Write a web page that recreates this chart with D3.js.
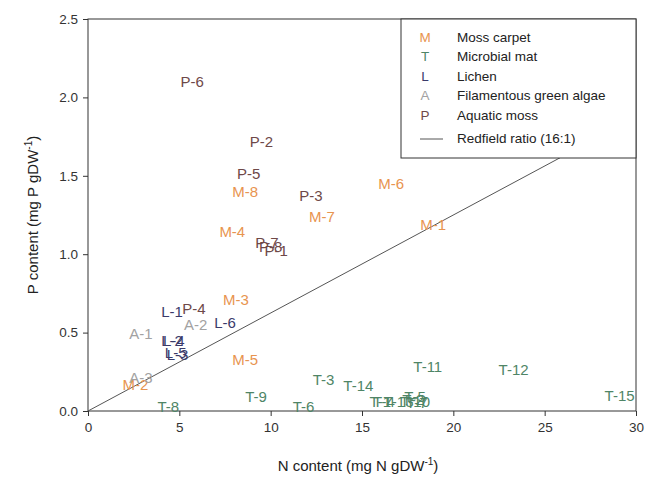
<!DOCTYPE html>
<html>
<head>
<meta charset="utf-8">
<script src="https://cdn.jsdelivr.net/npm/d3@7"></script>
<style>
  body { margin: 0; background: #fff; }
  text { font-family: "Liberation Sans", Arial, sans-serif; }
</style>
</head>
<body>
<div id="chart"></div>
<script>
// sample labels, N content and P content (mg per gDW) for each group
var mossLabels = ["M-1", "M-2", "M-3", "M-4", "M-5", "M-6", "M-7", "M-8"];
var mossN = [18.9, 2.6, 8.1, 7.9, 8.6, 16.6, 12.8, 8.6];
var mossP = [1.19, 0.17, 0.71, 1.14, 0.33, 1.45, 1.24, 1.40];

var matLabels = ["T-1", "T-2", "T-3", "T-4", "T-5", "T-6", "T-7", "T-8", "T-9", "T-10", "T-11", "T-12", "T-13", "T-14", "T-15"];
var matN = [16.0, 17.8, 12.9, 16.2, 17.9, 11.8, 18.0, 4.4, 9.2, 17.9, 18.6, 23.3, 17.0, 14.8, 29.1];
var matP = [0.06, 0.07, 0.20, 0.06, 0.09, 0.03, 0.05, 0.03, 0.09, 0.06, 0.28, 0.26, 0.06, 0.16, 0.10];

var lichenLabels = ["L-1", "L-2", "L-3", "L-4", "L-5", "L-6"];
var lichenN = [4.6, 4.6, 4.9, 4.7, 4.8, 7.5];
var lichenP = [0.63, 0.45, 0.36, 0.45, 0.37, 0.56];

var algaeLabels = ["A-1", "A-2", "A-3"];
var algaeN = [2.9, 5.9, 2.9];
var algaeP = [0.49, 0.55, 0.21];

var aquaLabels = ["P-1", "P-2", "P-3", "P-4", "P-5", "P-6", "P-7", "P-8"];
var aquaN = [10.3, 9.5, 12.2, 5.8, 8.8, 5.7, 9.8, 10.0];
var aquaP = [1.02, 1.72, 1.37, 0.65, 1.51, 2.10, 1.07, 1.05];

var xTicks = [0, 5, 10, 15, 20, 25, 30];
var yTicks = [0.0, 0.5, 1.0, 1.5, 2.0, 2.5];
var redfield = 16;

var groups = [
  { key: "M", name: "Moss carpet", color: "#e8944f", labels: mossLabels, n: mossN, p: mossP },
  { key: "T", name: "Microbial mat", color: "#4f8566", labels: matLabels, n: matN, p: matP },
  { key: "L", name: "Lichen", color: "#3a3a6a", labels: lichenLabels, n: lichenN, p: lichenP },
  { key: "A", name: "Filamentous green algae", color: "#a2a2a2", labels: algaeLabels, n: algaeN, p: algaeP },
  { key: "P", name: "Aquatic moss", color: "#6e4848", labels: aquaLabels, n: aquaN, p: aquaP }
];

var width = 658, height = 479;
var margin = { top: 19, right: 22, bottom: 68, left: 88 };
var w = width - margin.left - margin.right;
var h = height - margin.top - margin.bottom;

var svg = d3.select("#chart").append("svg")
    .attr("width", width)
    .attr("height", height);

var g = svg.append("g")
    .attr("transform", "translate(" + margin.left + "," + margin.top + ")");

var x = d3.scaleLinear().domain([0, 30]).range([0, w]);
var y = d3.scaleLinear().domain([0, 2.5]).range([h, 0]);

g.append("defs").append("clipPath").attr("id", "clip")
  .append("rect").attr("width", w).attr("height", h);

// axes
var xAxis = g.append("g")
    .attr("transform", "translate(0," + h + ")")
    .call(d3.axisBottom(x).tickValues(xTicks).tickSize(5).tickPadding(6).tickFormat(d3.format("d")));
var yAxis = g.append("g")
    .call(d3.axisLeft(y).tickValues(yTicks).tickSize(5).tickPadding(5).tickFormat(d3.format(".1f")));
[xAxis, yAxis].forEach(function(a) {
  a.select(".domain").remove();
  a.selectAll("line").attr("stroke", "#333");
  a.selectAll("text").attr("fill", "#333").style("font-size", "13.5px")
    .style("font-family", "'Liberation Sans', Arial, sans-serif");
});

// frame
g.append("rect")
  .attr("width", w).attr("height", h)
  .attr("fill", "none").attr("stroke", "#333").attr("stroke-width", 1);

// Redfield line
g.append("line")
  .attr("clip-path", "url(#clip)")
  .attr("x1", x(0)).attr("y1", y(0))
  .attr("x2", x(30)).attr("y2", y(30 / redfield))
  .attr("stroke", "#555").attr("stroke-width", 1);

// sample labels
groups.forEach(function(grp) {
  g.selectAll(".lbl-" + grp.key)
    .data(grp.labels)
    .enter().append("text")
      .attr("x", function(d, i) { return x(grp.n[i]); })
      .attr("y", function(d, i) { return y(grp.p[i]); })
      .attr("text-anchor", "middle")
      .attr("dy", "0.35em")
      .attr("fill", grp.color)
      .style("font-size", "15px")
      .text(function(d) { return d; });
});

// legend
var lg = g.append("g").attr("transform", "translate(" + (w - 235) + ",0)");
lg.append("rect")
  .attr("width", 235).attr("height", 139)
  .attr("fill", "#fff").attr("stroke", "#333");
groups.forEach(function(grp, i) {
  var yy = 18 + i * 19.5;
  lg.append("text").attr("x", 24).attr("y", yy).attr("dy", "0.35em")
    .attr("text-anchor", "middle").attr("fill", grp.color)
    .style("font-size", "13.5px").text(grp.key);
  lg.append("text").attr("x", 56).attr("y", yy).attr("dy", "0.35em")
    .attr("fill", "#222").style("font-size", "13.5px").text(grp.name);
});
lg.append("line").attr("x1", 19).attr("x2", 42).attr("y1", 120).attr("y2", 120)
  .attr("stroke", "#555");
lg.append("text").attr("x", 56).attr("y", 119).attr("dy", "0.35em")
  .attr("fill", "#222").style("font-size", "13.5px").text("Redfield ratio (16:1)");

// axis titles
var xt = svg.append("text")
  .attr("x", margin.left + w / 2 - 4).attr("y", 471)
  .attr("text-anchor", "middle").attr("fill", "#222").style("font-size", "15px");
xt.append("tspan").text("N content (mg N gDW");
xt.append("tspan").attr("dy", -6).style("font-size", "10px").text("-1");
xt.append("tspan").attr("dy", 6).text(")");

var yt = svg.append("text")
  .attr("transform", "translate(38," + (margin.top + h / 2) + ") rotate(-90)")
  .attr("text-anchor", "middle").attr("fill", "#222").style("font-size", "15px");
yt.append("tspan").text("P content (mg P gDW");
yt.append("tspan").attr("dy", -6).style("font-size", "10px").text("-1");
yt.append("tspan").attr("dy", 6).text(")");
</script>
</body>
</html>
